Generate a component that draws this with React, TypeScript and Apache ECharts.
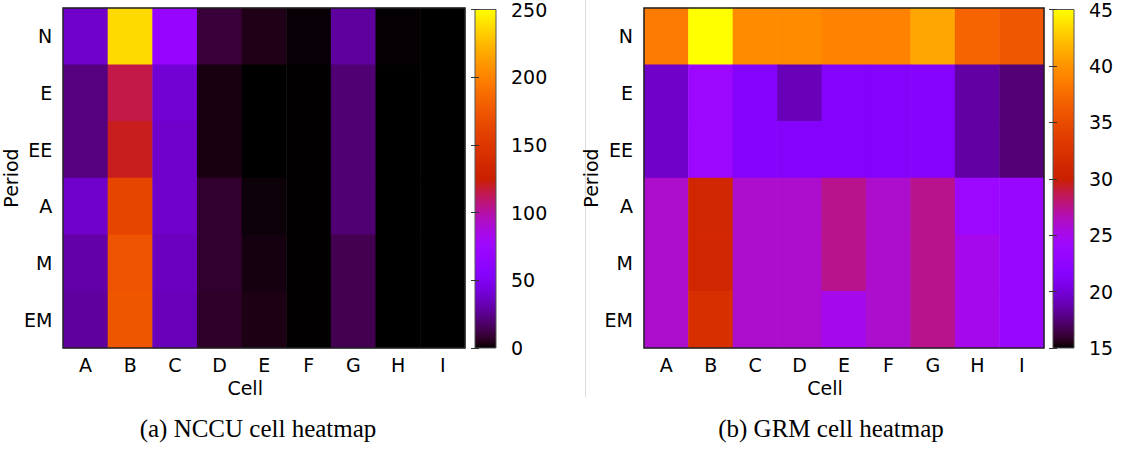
import React, { useEffect, useRef } from "react";
import * as echarts from "echarts";

const cells = ["A", "B", "C", "D", "E", "F", "G", "H", "I"];
const periods = ["N", "E", "EE", "A", "M", "EM"];

// NCCU cell heatmap rows (values 0-250)
const nccuN = [38, 237, 68, 10, 4, 1, 28, 0.5, 0];
const nccuE = [22, 115, 40, 3, 0, 0.4, 20, 0, 0];
const nccuEE = [22, 121, 38, 3, 0, 0.4, 20, 0, 0];
const nccuA = [38, 162, 38, 8, 1.5, 0.4, 20, 0, 0];
const nccuM = [30, 172, 35, 8, 2.5, 0.4, 14, 0, 0];
const nccuEM = [28, 174, 34, 7, 3.5, 0.4, 14, 0, 0];

// GRM cell heatmap rows (values 15-45)
const grmN = [38.5, 45, 39.5, 39.5, 39, 39, 41, 37, 36];
const grmE = [19.5, 24, 21.5, 19, 21.5, 21.5, 21.5, 18.5, 17.5];
const grmEE = [19.5, 24, 21.5, 21.5, 21.5, 21.5, 21.5, 18.5, 17.5];
const grmA = [26, 31, 26, 26, 27.5, 26, 27.5, 24, 23.5];
const grmM = [26, 31, 26, 26, 27.5, 26, 27.5, 25, 23.5];
const grmEM = [26, 32, 26, 26, 25, 26, 27.5, 25, 23.5];

const nccuRange = [0, 250];
const nccuTickStep = 50;
const grmRange = [15, 45];
const grmTickStep = 5;

const nccuRows = [nccuN, nccuE, nccuEE, nccuA, nccuM, nccuEM];
const grmRows = [grmN, grmE, grmEE, grmA, grmM, grmEM];

// gnuplot default palette (rgbformulae 7,5,15), slightly adjusted like the reference
function paletteColor(t: number): string {
  const r = Math.sqrt(t) * 1.12;
  const g = t * t * t;
  const b = Math.max(0, Math.sin(2 * Math.PI * t)) * (0.9 + 0.5 * t);
  const h = (v: number) =>
    Math.round(Math.min(1, Math.max(0, v)) * 255)
      .toString(16)
      .padStart(2, "0");
  return "#" + h(r) + h(g) + h(b);
}
const N_STOPS = 51;
const palette: string[] = [];
for (let i = 0; i < N_STOPS; i++) palette.push(paletteColor(i / (N_STOPS - 1)));

const gradient = {
  type: "linear",
  x: 0,
  y: 1,
  x2: 0,
  y2: 0,
  colorStops: palette.map((c, i) => ({ offset: i / (N_STOPS - 1), color: c })),
};

function toData(rows: number[][]) {
  const out: number[][] = [];
  rows.forEach((row, r) => row.forEach((v, c) => out.push([c, r, v])));
  return out;
}

const FONT = "DejaVu Sans";
const labelStyle = { fontFamily: FONT, fontSize: 19, color: "#000" };

export default function App() {
  const ref = useRef<HTMLDivElement>(null);
  useEffect(() => {
    const chart = echarts.init(ref.current!, null, { renderer: "svg" });
    const plots = [
      { left: 63, width: 402, cbLeft: 475, nameGap: 38 },
      { left: 644, width: 400, cbLeft: 1053, nameGap: 36 },
    ];
    const ranges = [nccuRange, grmRange];
    const steps = [nccuTickStep, grmTickStep];
    const top = 8;
    const height = 340;
    const cbWidth = 21;

    const grid: any[] = [];
    const xAxis: any[] = [];
    const yAxis: any[] = [];
    plots.forEach((p, i) => {
      grid.push({ left: p.left, top, width: p.width, height });
      grid.push({
        left: p.cbLeft,
        top,
        width: cbWidth,
        height,
        show: true,
        backgroundColor: gradient,
        borderColor: "#555",
        borderWidth: 1,
      });
      xAxis.push({
        type: "category",
        gridIndex: 2 * i,
        data: cells,
        axisLine: { show: false },
        axisTick: { show: false },
        splitLine: { show: false },
        axisLabel: { ...labelStyle, margin: 7 },
        name: "Cell",
        nameLocation: "middle",
        nameGap: 30,
        nameTextStyle: { ...labelStyle, padding: [0, 38, 0, 0] },
      });
      xAxis.push({ type: "value", gridIndex: 2 * i + 1, show: false, min: 0, max: 1 });
      yAxis.push({
        type: "category",
        gridIndex: 2 * i,
        data: periods,
        inverse: true,
        axisLine: { show: false },
        axisTick: { show: false },
        splitLine: { show: false },
        axisLabel: { ...labelStyle, margin: 11 },
        name: "Period",
        nameLocation: "middle",
        nameGap: p.nameGap,
        nameTextStyle: { ...labelStyle },
      });
      const [mn, mx] = ranges[i];
      yAxis.push({
        type: "value",
        gridIndex: 2 * i + 1,
        position: "right",
        min: mn,
        max: mx,
        interval: steps[i],
        axisLine: { show: false },
        splitLine: { show: false },
        axisTick: { show: true, inside: true, length: 4, lineStyle: { color: "#333" } },
        axisLabel: { ...labelStyle, margin: 15 },
      });
      yAxis.push({
        type: "value",
        gridIndex: 2 * i + 1,
        position: "left",
        min: mn,
        max: mx,
        interval: steps[i],
        axisLine: { show: false },
        splitLine: { show: false },
        axisTick: { show: true, inside: true, length: 4, lineStyle: { color: "#333" } },
        axisLabel: { show: false },
      });
    });

    chart.setOption({
      animation: false,
      backgroundColor: "#fff",
      grid,
      xAxis,
      yAxis,
      visualMap: [
        {
          type: "continuous",
          show: false,
          seriesIndex: 0,
          min: nccuRange[0],
          max: nccuRange[1],
          inRange: { color: palette },
        },
        {
          type: "continuous",
          show: false,
          seriesIndex: 1,
          min: grmRange[0],
          max: grmRange[1],
          inRange: { color: palette },
        },
      ],
      series: [
        {
          type: "heatmap",
          xAxisIndex: 0,
          yAxisIndex: 0,
          data: toData(nccuRows),
          itemStyle: { borderWidth: 0 },
        },
        {
          type: "heatmap",
          xAxisIndex: 2,
          yAxisIndex: 3,
          data: toData(grmRows),
          itemStyle: { borderWidth: 0 },
        },
      ],
      graphic: [
        {
          type: "rect",
          z: 100,
          shape: { x: 63, y: 8, width: 402, height: 340 },
          style: { fill: "none", stroke: "#222", lineWidth: 1.5 },
        },
        {
          type: "rect",
          z: 100,
          shape: { x: 644, y: 8, width: 400, height: 340 },
          style: { fill: "none", stroke: "#222", lineWidth: 1.5 },
        },
        {
          type: "line",
          shape: { x1: 585.5, y1: 0, x2: 585.5, y2: 397 },
          style: { stroke: "#dcdcdc", lineWidth: 1 },
        },
        {
          type: "text",
          x: 258,
          y: 428,
          style: {
            text: "(a) NCCU cell heatmap",
            font: "25px 'Liberation Serif'",
            fill: "#000",
            textAlign: "center",
            textVerticalAlign: "middle",
          },
        },
        {
          type: "text",
          x: 831,
          y: 428,
          style: {
            text: "(b) GRM cell heatmap",
            font: "25px 'Liberation Serif'",
            fill: "#000",
            textAlign: "center",
            textVerticalAlign: "middle",
          },
        },
      ],
    });
    return () => chart.dispose();
  }, []);
  return <div ref={ref} style={{ width: 1121, height: 449, position: "absolute", left: 0, top: 0 }} />;
}
